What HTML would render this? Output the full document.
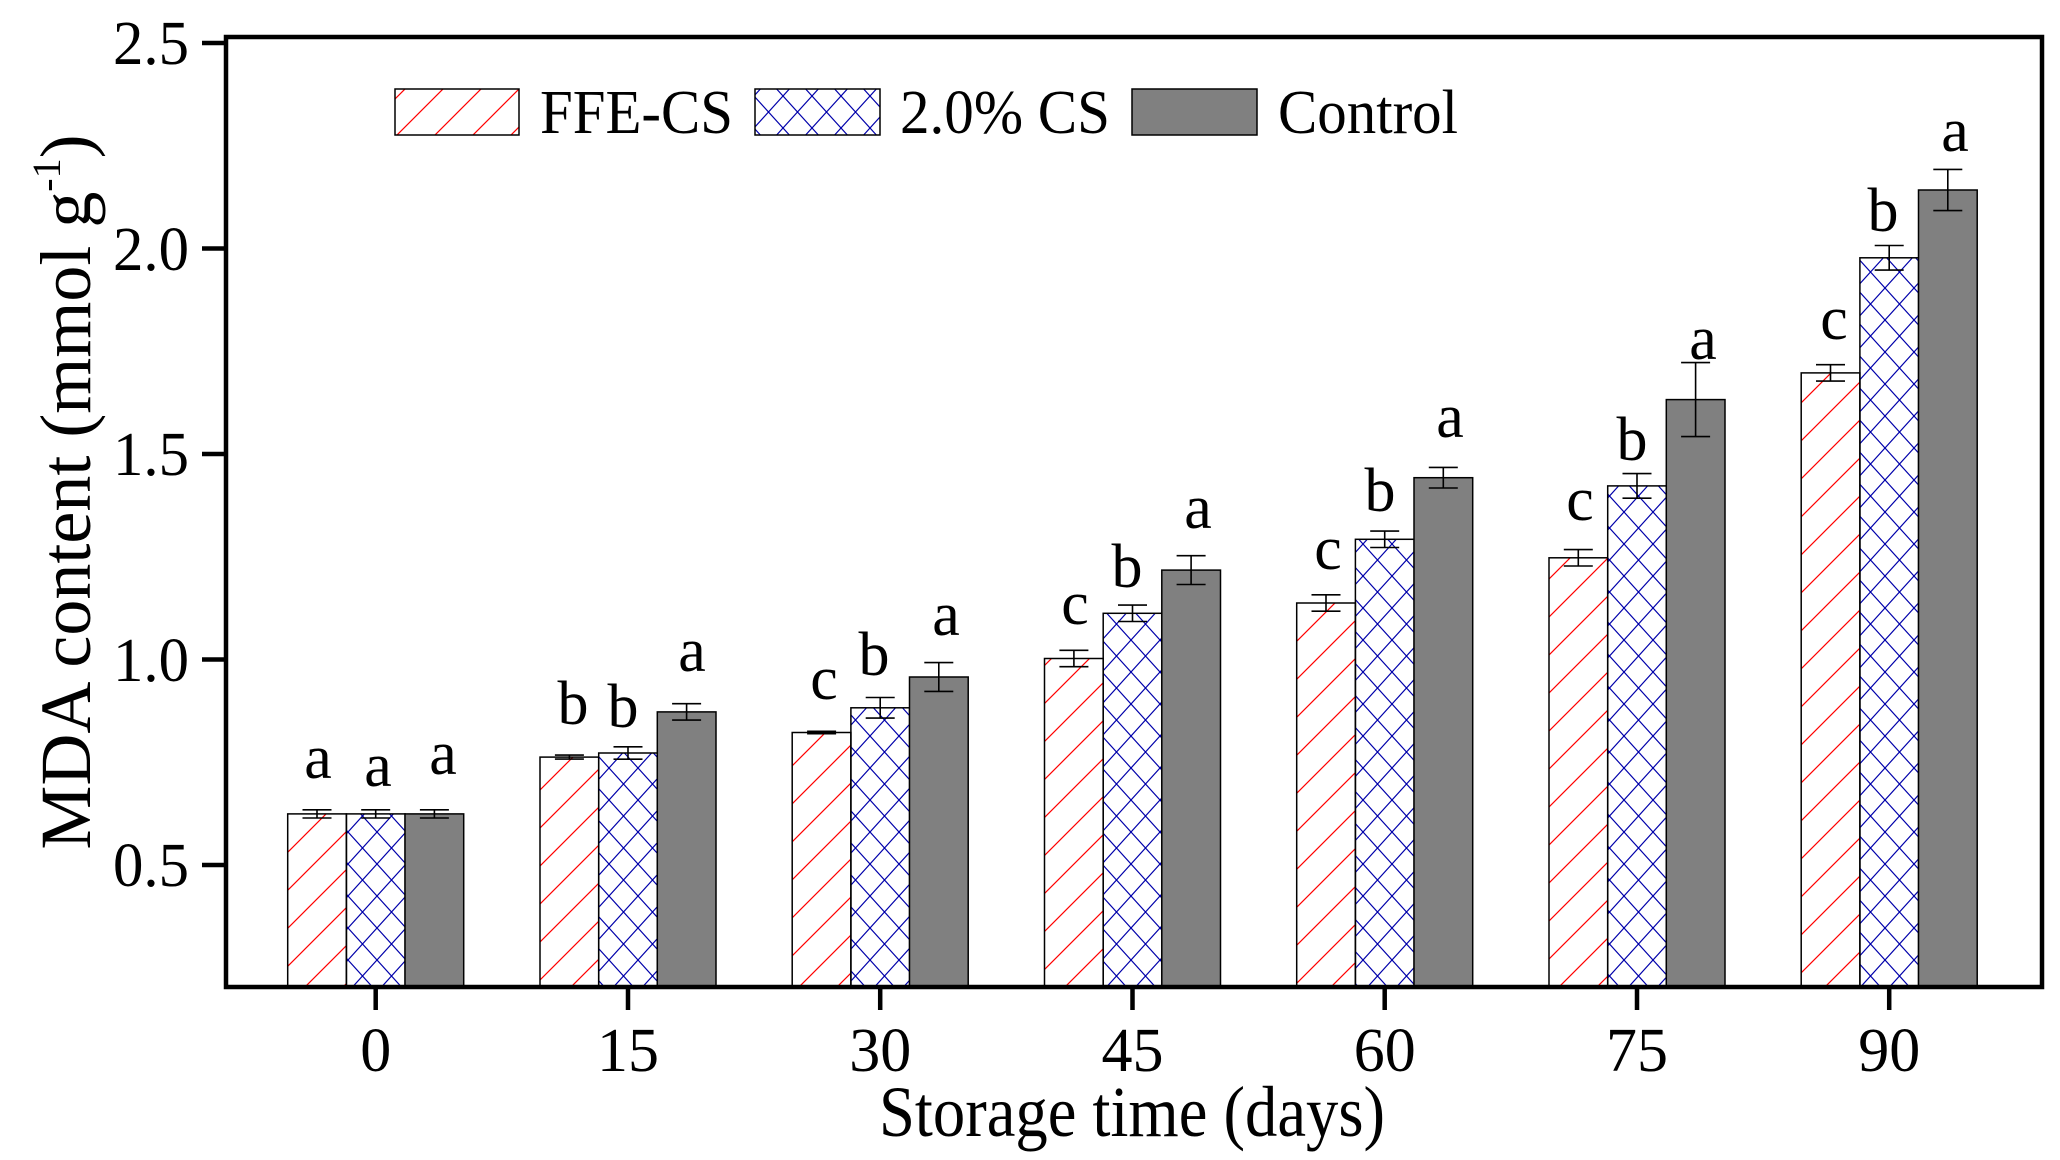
<!DOCTYPE html>
<html><head><meta charset="utf-8"><style>html,body{margin:0;padding:0;background:#fff}svg{display:block}</style></head>
<body>
<svg width="2060" height="1160" viewBox="0 0 2060 1160" xmlns="http://www.w3.org/2000/svg" font-family="Liberation Serif, serif">
<defs>
<pattern id="red" patternUnits="userSpaceOnUse" width="38" height="38">
<path d="M-5,43 L43,-5 M-20,20 L20,-20 M18,58 L58,18" stroke="#ff0000" stroke-width="1.2"/>
</pattern>
<pattern id="blue" patternUnits="userSpaceOnUse" width="29" height="32">
<path d="M0,0 L29,32 M29,0 L0,32" stroke="#0000aa" stroke-width="1.2"/>
</pattern>
</defs>
<rect width="2060" height="1160" fill="#fff"/>
<g stroke="#000" stroke-width="1.5">
<rect x="287.7" y="813.9" width="58.7" height="173.1" fill="url(#red)"/>
<rect x="346.4" y="813.9" width="58.7" height="173.1" fill="url(#blue)"/>
<rect x="405" y="813.9" width="58.7" height="173.1" fill="#808080"/>
<rect x="540" y="757.1" width="58.7" height="229.9" fill="url(#red)"/>
<rect x="598.7" y="753" width="58.7" height="234" fill="url(#blue)"/>
<rect x="657.3" y="711.9" width="58.7" height="275.1" fill="#808080"/>
<rect x="792.2" y="732.5" width="58.7" height="254.5" fill="url(#red)"/>
<rect x="850.9" y="707.8" width="58.7" height="279.2" fill="url(#blue)"/>
<rect x="909.5" y="677" width="58.7" height="310" fill="#808080"/>
<rect x="1044.5" y="658.5" width="58.7" height="328.5" fill="url(#red)"/>
<rect x="1103.2" y="613.3" width="58.7" height="373.7" fill="url(#blue)"/>
<rect x="1161.8" y="570.1" width="58.7" height="416.9" fill="#808080"/>
<rect x="1296.7" y="603" width="58.7" height="384" fill="url(#red)"/>
<rect x="1355.4" y="539.3" width="58.7" height="447.7" fill="url(#blue)"/>
<rect x="1414" y="477.7" width="58.7" height="509.3" fill="#808080"/>
<rect x="1549" y="557.8" width="58.7" height="429.2" fill="url(#red)"/>
<rect x="1607.7" y="485.9" width="58.7" height="501.1" fill="url(#blue)"/>
<rect x="1666.3" y="399.6" width="58.7" height="587.4" fill="#808080"/>
<rect x="1801.2" y="372.9" width="58.7" height="614.1" fill="url(#red)"/>
<rect x="1859.9" y="257.8" width="58.7" height="729.2" fill="url(#blue)"/>
<rect x="1918.5" y="190" width="58.7" height="797" fill="#808080"/>
</g>
<g stroke="#000" stroke-width="1.6" fill="none">
<path d="M317,809.8V818 M302.5,809.8H331.5 M302.5,818H331.5"/>
<path d="M375.7,809.8V818 M361.2,809.8H390.2 M361.2,818H390.2"/>
<path d="M434.4,809.8V818 M419.9,809.8H448.9 M419.9,818H448.9"/>
<path d="M569.4,755.1V759.1 M554.9,755.1H583.9 M554.9,759.1H583.9"/>
<path d="M628,746.8V759.2 M613.5,746.8H642.5 M613.5,759.2H642.5"/>
<path d="M686.6,703.7V720.1 M672.1,703.7H701.1 M672.1,720.1H701.1"/>
<path d="M821.6,731.3V733.7 M807.1,731.3H836.1 M807.1,733.7H836.1"/>
<path d="M880.2,697.5V718.1 M865.7,697.5H894.7 M865.7,718.1H894.7"/>
<path d="M938.8,662.6V691.4 M924.3,662.6H953.3 M924.3,691.4H953.3"/>
<path d="M1073.9,650.3V666.7 M1059.4,650.3H1088.4 M1059.4,666.7H1088.4"/>
<path d="M1132.5,605.1V621.5 M1118,605.1H1147 M1118,621.5H1147"/>
<path d="M1191.1,555.7V584.5 M1176.6,555.7H1205.6 M1176.6,584.5H1205.6"/>
<path d="M1326,594.8V611.2 M1311.5,594.8H1340.5 M1311.5,611.2H1340.5"/>
<path d="M1384.7,531.1V547.5 M1370.2,531.1H1399.2 M1370.2,547.5H1399.2"/>
<path d="M1443.3,467.4V488 M1428.8,467.4H1457.8 M1428.8,488H1457.8"/>
<path d="M1578.3,549.6V566 M1563.8,549.6H1592.8 M1563.8,566H1592.8"/>
<path d="M1637,473.6V498.2 M1622.5,473.6H1651.5 M1622.5,498.2H1651.5"/>
<path d="M1695.6,362.6V436.6 M1681.1,362.6H1710.1 M1681.1,436.6H1710.1"/>
<path d="M1830.5,364.7V381.1 M1816,364.7H1845 M1816,381.1H1845"/>
<path d="M1889.2,245.5V270.1 M1874.7,245.5H1903.7 M1874.7,270.1H1903.7"/>
<path d="M1947.8,169.4V210.6 M1933.3,169.4H1962.3 M1933.3,210.6H1962.3"/>
</g>
<g font-size="62" text-anchor="middle" fill="#000">
<text x="318" y="778">a</text><text x="378" y="786">a</text><text x="443" y="774">a</text>
<text x="573" y="724">b</text><text x="623" y="727">b</text><text x="692" y="671">a</text>
<text x="824" y="699">c</text><text x="874" y="675">b</text><text x="946" y="635">a</text>
<text x="1075" y="624">c</text><text x="1127" y="587">b</text><text x="1198" y="528">a</text>
<text x="1328" y="569">c</text><text x="1380" y="511">b</text><text x="1450" y="437">a</text>
<text x="1580" y="520">c</text><text x="1632" y="460">b</text><text x="1703" y="359">a</text>
<text x="1834" y="339">c</text><text x="1883" y="231">b</text><text x="1955" y="151">a</text>
</g>
<rect x="226" y="37" width="1816" height="950" fill="none" stroke="#000" stroke-width="4.5"/>
<g stroke="#000" stroke-width="4.5">
<path d="M202,43H226 M202,248.5H226 M202,454H226 M202,659.5H226 M202,865H226"/>
<path d="M375.7,987V1010 M628,987V1010 M880.2,987V1010 M1132.5,987V1010 M1384.7,987V1010 M1637,987V1010 M1889.2,987V1010"/>
</g>
<g font-size="62" text-anchor="end" fill="#000">
<text x="189" y="64" textLength="76" lengthAdjust="spacingAndGlyphs">2.5</text>
<text x="189" y="270" textLength="76" lengthAdjust="spacingAndGlyphs">2.0</text>
<text x="189" y="475" textLength="76" lengthAdjust="spacingAndGlyphs">1.5</text>
<text x="189" y="681" textLength="76" lengthAdjust="spacingAndGlyphs">1.0</text>
<text x="189" y="886" textLength="76" lengthAdjust="spacingAndGlyphs">0.5</text>
</g>
<g font-size="62" text-anchor="middle" fill="#000">
<text x="375.7" y="1071">0</text>
<text x="628" y="1071">15</text>
<text x="880.2" y="1071">30</text>
<text x="1132.5" y="1071">45</text>
<text x="1384.7" y="1071">60</text>
<text x="1637" y="1071">75</text>
<text x="1889.2" y="1071">90</text>
</g>
<text x="1132" y="1136" font-size="72" text-anchor="middle" textLength="506" lengthAdjust="spacingAndGlyphs">Storage time (days)</text>
<text transform="translate(90,492) rotate(-90)" font-size="72" text-anchor="middle">MDA content (mmol g<tspan font-size="40" dy="-30">-1</tspan><tspan dy="30">)</tspan></text>
<rect x="395" y="89" width="124" height="46" fill="url(#red)" stroke="#000" stroke-width="1.5"/>
<rect x="755" y="89" width="125" height="46" fill="url(#blue)" stroke="#000" stroke-width="1.5"/>
<rect x="1132" y="89" width="125" height="46" fill="#808080" stroke="#000" stroke-width="1.5"/>
<g font-size="62" fill="#000">
<text x="540" y="133" textLength="193" lengthAdjust="spacingAndGlyphs">FFE-CS</text>
<text x="900" y="133" textLength="210" lengthAdjust="spacingAndGlyphs">2.0% CS</text>
<text x="1278" y="133" textLength="180" lengthAdjust="spacingAndGlyphs">Control</text>
</g>
</svg>
</body></html>
